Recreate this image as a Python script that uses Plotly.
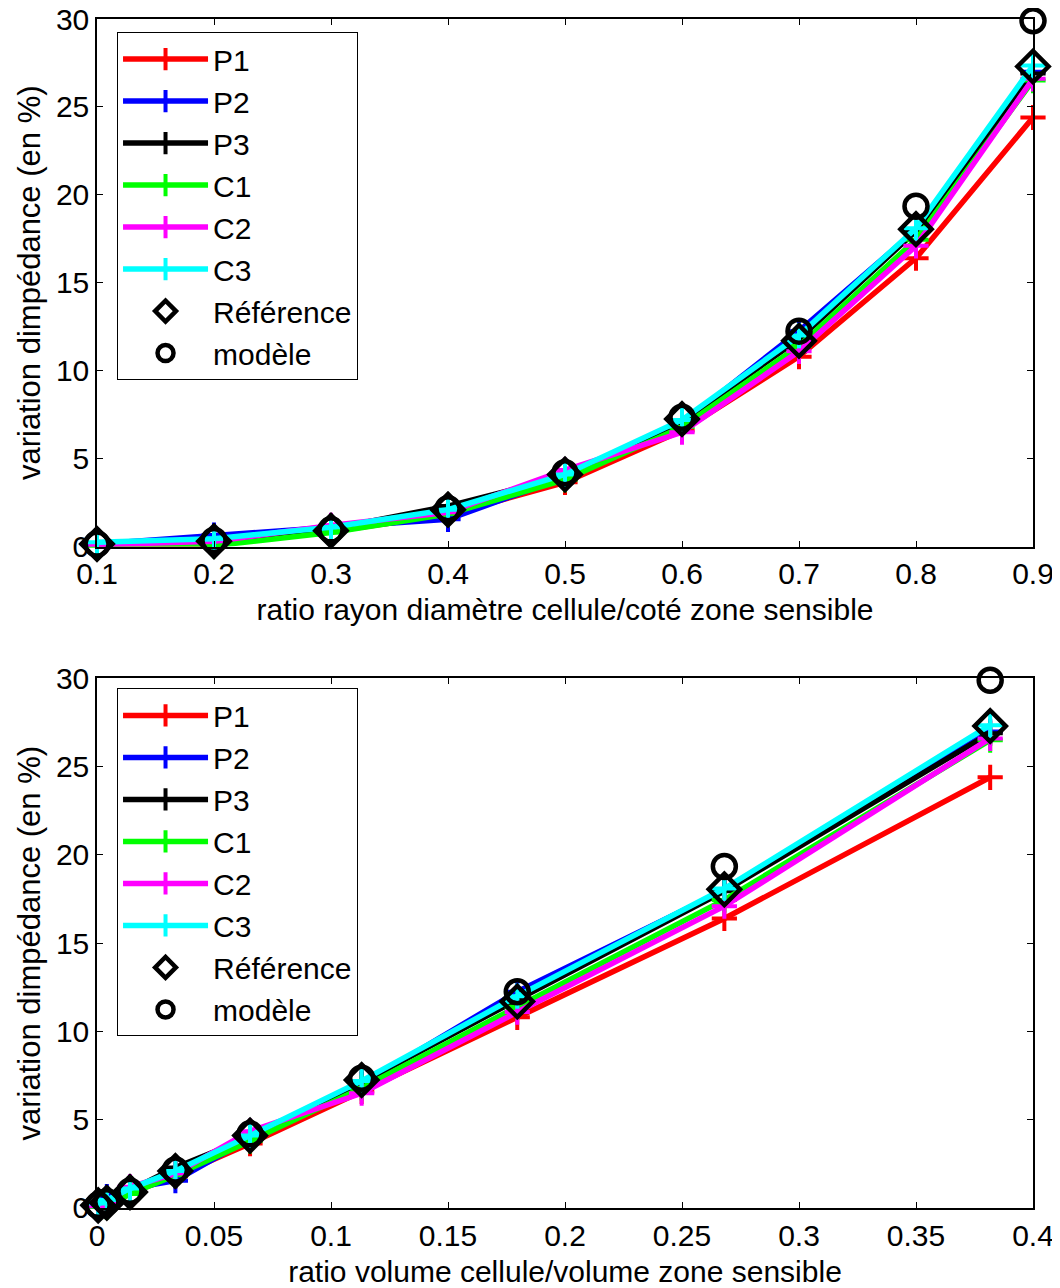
import plotly.graph_objects as go

# ---------------- data ----------------
ratio_rayon = [0.1, 0.2, 0.3, 0.4, 0.5, 0.6, 0.7, 0.8, 0.9]
ratio_volume = [0.0005, 0.0042, 0.0141, 0.0335, 0.0654, 0.1131, 0.1796, 0.2681, 0.3817]

P1 = [0.10, 0.10, 0.85, 1.80, 3.65, 6.60, 10.80, 16.40, 24.40]
P2 = [0.15, 0.65, 1.10, 1.55, 3.95, 7.00, 12.25, 18.00, 27.00]
P3 = [0.15, 0.30, 1.00, 2.30, 4.00, 7.10, 11.80, 17.95, 26.90]
C1 = [0.05, 0.05, 0.80, 1.85, 3.80, 6.80, 11.40, 17.45, 26.50]
C2 = [0.10, 0.30, 1.20, 1.95, 4.35, 6.50, 11.10, 17.10, 26.60]
C3 = [0.25, 0.45, 1.10, 2.10, 4.10, 7.20, 12.00, 18.10, 27.35]
reference = [0.15, 0.30, 0.90, 2.10, 4.10, 7.25, 11.70, 18.05, 27.30]
modele = [0.15, 0.35, 0.95, 2.15, 4.20, 7.35, 12.25, 19.35, 29.90]

series_names = ["P1", "P2", "P3", "C1", "C2", "C3"]
series_values = [P1, P2, P3, C1, C2, C3]
series_colors = ["#FF0000", "#0000FF", "#000000", "#00FF00", "#FF00FF", "#00FFFF"]

y_ticks = [0, 5, 10, 15, 20, 25, 30]
x1_ticks = [0.1, 0.2, 0.3, 0.4, 0.5, 0.6, 0.7, 0.8, 0.9]
x2_ticks = [0, 0.05, 0.1, 0.15, 0.2, 0.25, 0.3, 0.35, 0.4]

xlabel_top = "ratio rayon diamètre cellule/coté zone sensible"
xlabel_bottom = "ratio volume cellule/volume zone sensible"
ylabel = "variation dimpédance (en %)"

FONT = "Liberation Sans, Arial, sans-serif"

fig = go.Figure()

for panel, (xs, xa, ya, lg) in enumerate([
    (ratio_rayon, "x", "y", "legend"),
    (ratio_volume, "x2", "y2", "legend2"),
]):
    for name, vals, col in zip(series_names, series_values, series_colors):
        fig.add_trace(go.Scatter(
            x=xs, y=vals, name=name, mode="lines+markers",
            line=dict(color=col, width=5.5),
            marker=dict(symbol="cross-thin", size=18, color=col,
                        line=dict(color=col, width=4)),
            xaxis=xa, yaxis=ya, legend=lg, cliponaxis=False,
        ))
    fig.add_trace(go.Scatter(
        x=xs, y=reference, name="Référence", mode="markers",
        marker=dict(symbol="diamond-open", size=24, color="black",
                    line=dict(color="black", width=4.5)),
        xaxis=xa, yaxis=ya, legend=lg, cliponaxis=False,
    ))
    fig.add_trace(go.Scatter(
        x=xs, y=modele, name="modèle", mode="markers",
        marker=dict(symbol="circle-open", size=23, color="black",
                    line=dict(color="black", width=4.5)),
        xaxis=xa, yaxis=ya, legend=lg, cliponaxis=False,
    ))

axis_common = dict(
    showline=True, linecolor="black", linewidth=1.5, mirror="ticks",
    ticks="inside", ticklen=6, tickcolor="black", tickwidth=1,
    showgrid=False, zeroline=False, automargin=False,
    ticklabeloverflow="allow",
    tickfont=dict(family=FONT, size=30, color="black"),
)

legend_common = dict(
    font=dict(family=FONT, size=30, color="black"),
    bgcolor="white", bordercolor="black", borderwidth=1,
    xanchor="left", yanchor="top", tracegroupgap=0,
    itemwidth=85,
)

fig.update_layout(
    width=1052, height=1280,
    margin=dict(l=89, r=27, t=11, b=80),
    paper_bgcolor="white", plot_bgcolor="white",
    font=dict(family=FONT, size=30, color="black"),
    xaxis=dict(domain=[0, 1], range=[0.1, 0.9], tickvals=x1_ticks,
               ticktext=[f"{v:g}" for v in x1_ticks], anchor="y",
               title=dict(text=xlabel_top, font=dict(family=FONT, size=30), standoff=10),
               **axis_common),
    yaxis=dict(domain=[0.5563, 1], range=[0, 30], tickvals=y_ticks, anchor="x",
               title=dict(text=ylabel, font=dict(family=FONT, size=31), standoff=6),
               **axis_common),
    xaxis2=dict(domain=[0, 1], range=[0, 0.4], tickvals=x2_ticks,
                ticktext=[f"{v:g}" for v in x2_ticks], anchor="y2",
                title=dict(text=xlabel_bottom, font=dict(family=FONT, size=30), standoff=10),
                **axis_common),
    yaxis2=dict(domain=[0, 0.4454], range=[0, 30], tickvals=y_ticks, anchor="x2",
                title=dict(text=ylabel, font=dict(family=FONT, size=31), standoff=6),
                **axis_common),
    legend=dict(x=0.0214, y=0.989, **legend_common),
    legend2=dict(x=0.0214, y=0.437, **legend_common),
)

fig.write_html("out.html")
